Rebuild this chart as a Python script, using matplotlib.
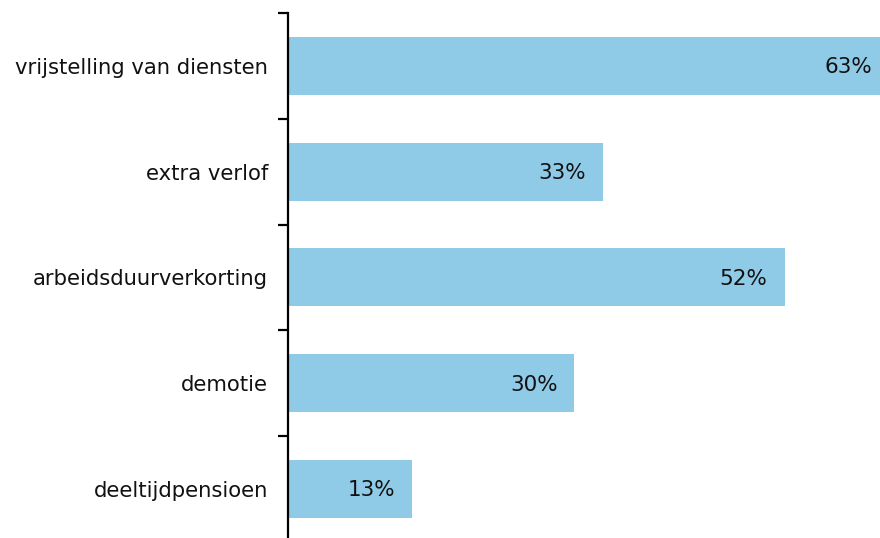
import matplotlib.pyplot as plt
import numpy as np

categories = ["vrijstelling van diensten", "extra verlof", "arbeidsduurverkorting",
              "demotie", "deeltijdpensioen"]
values = [63, 33, 52, 30, 13]

W, H, DPI = 880, 538, 100
PT = 72 / DPI  # points per pixel
fig = plt.figure(figsize=(W / DPI, H / DPI), dpi=DPI)

# axes spans from the value axis to the right edge, slightly beyond the bottom
left_px, top_px, step_px = 288, 13, 105.75
height_px = step_px * len(categories)
ax = fig.add_axes([left_px / W, (H - top_px - height_px) / H,
                   1 - left_px / W, height_px / H])

y = np.arange(len(categories))
ax.barh(y, values, height=0.55, color="#8fcae7", zorder=2)
ax.set_xlim(0, 62.0)
ax.set_ylim(len(categories) - 0.5, -0.5)

ax.set_yticks(y)
ax.set_yticklabels(categories, fontsize=15.2, color="#111111")
ax.tick_params(axis="y", which="major", length=0, pad=20 * PT)
ax.set_yticks(np.arange(-0.5, len(categories)), minor=True)
ax.tick_params(axis="y", which="minor", length=7, width=1.6, color="black")
ax.set_xticks([])

for s in ["top", "right", "bottom"]:
    ax.spines[s].set_visible(False)
ax.spines["left"].set_linewidth(1.6)

for yi, v in zip(y, values):
    ax.annotate(f"{v}%", xy=(v, yi), xytext=(-17 * PT, -1.5 * PT),
                textcoords="offset points", ha="right", va="center",
                fontsize=15.5, color="#111111", annotation_clip=False, clip_on=False)

fig.savefig("out.png", dpi=DPI)
